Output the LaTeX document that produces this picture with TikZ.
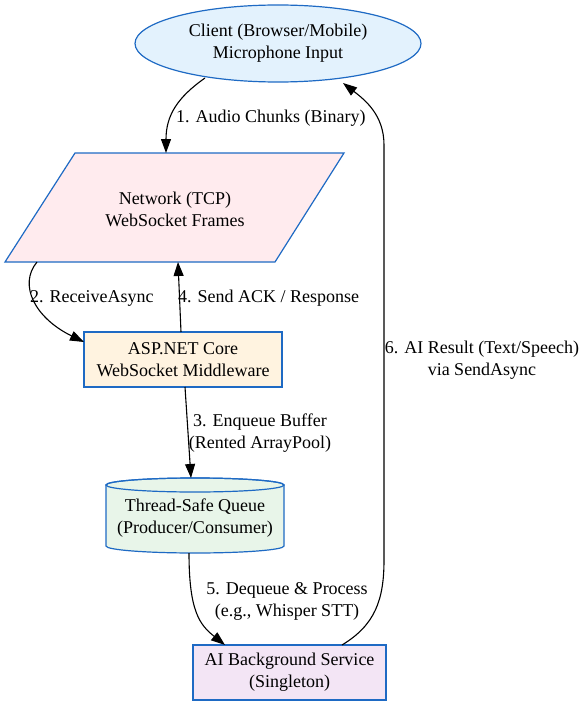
\documentclass[tikz,border=0pt]{standalone}
\usepackage{fontspec}
\setmainfont{Liberation Serif}
\newfontfamily\tms{Liberation Serif}
\usetikzlibrary{shapes.geometric,arrows.meta}
\definecolor{bord}{HTML}{1E6AC4}
\definecolor{fclient}{HTML}{E3F2FD}
\definecolor{fnet}{HTML}{FFEBEE}
\definecolor{fasp}{HTML}{FFF3E0}
\definecolor{fqueue}{HTML}{E8F5E9}
\definecolor{fai}{HTML}{F3E5F5}
\tikzset{
  txt/.style={font=\tms\fontsize{18}{22}\selectfont, align=center, inner sep=0pt},
  shapeline/.style={draw=bord, line width=1.2pt},
  boxnode/.style={txt, shapeline, rectangle},
  edge/.style={draw=black, line width=1.1pt, -{Triangle[length=14pt,width=10pt]}},
  lbl/.style={txt}
}
\begin{document}
\begin{tikzpicture}[x=1pt,y=-1pt]
\useasboundingbox (0,0) rectangle (584,706);

% Client
\node[txt, shapeline, ellipse, fill=fclient, minimum width=286pt, minimum height=77pt] (client) at (278,43.5) {Client (Browser/Mobile)\\Microphone Input};

% Network parallelogram
\filldraw[shapeline, fill=fnet] (75,153) -- (344,153) -- (275,262) -- (5,262) -- cycle;
\node[txt] (net) at (175,209) {Network (TCP)\\WebSocket Frames};

% ASP.NET
\node[boxnode, fill=fasp, minimum width=198pt, minimum height=55pt] (asp) at (183,359.5) {ASP.NET Core\\WebSocket Middleware};

% Queue cylinder
\filldraw[shapeline, fill=fqueue] (106,485) -- (106,546) arc[start angle=180,end angle=0,x radius=89,y radius=7] -- (284,485) arc[start angle=0,end angle=-180,x radius=89,y radius=7] -- cycle;
\draw[shapeline] (195,485) ellipse[x radius=89,y radius=7];
\node[txt] (queue) at (195,518) {Thread-Safe Queue\\(Producer/Consumer)};

% AI service
\node[boxnode, fill=fai, minimum width=193pt, minimum height=55pt] (ai) at (289.5,672.5) {AI Background Service\\(Singleton)};

% anchor coordinates
\coordinate (c1s) at (205,78);
\coordinate (n1) at (166,153);
\coordinate (n2s) at (37,262);
\coordinate (a2) at (84,342);
\coordinate (a4s) at (181,332);
\coordinate (n4) at (178,262);
\coordinate (a3s) at (185,387);
\coordinate (q3) at (191,478);
\coordinate (q5s) at (189,553);
\coordinate (ai5) at (225,645);
\coordinate (ai6s) at (342,645);
\coordinate (c6) at (343,83);

% edges
\draw[edge] (c1s) .. controls (178,97) and (166,115) .. (n1);
\draw[edge] (n2s) .. controls (18,285) and (35,318) .. (a2);
\draw[edge] (a4s) -- (n4);
\draw[edge] (a3s) -- (q3);
\draw[edge] (q5s) .. controls (189,612) and (200,625) .. (ai5);
\draw[edge] (ai6s) .. controls (375,625) and (384,600) .. (384,560) -- (384,145) .. controls (384,115) and (365,100) .. (c6);

% labels
\node[lbl, anchor=west] (l1) at (176,118) {1. Audio Chunks (Binary)};
\node[lbl, anchor=west] (l2) at (30,298) {2. ReceiveAsync};
\node[lbl, anchor=west] (l4) at (178,298) {4. Send ACK / Response};
\node[lbl] (l3) at (260,433) {3. Enqueue Buffer\\(Rented ArrayPool)};
\node[lbl] (l5) at (287,601) {5. Dequeue \& Process\\(e.g., Whisper STT)};
\node[lbl] (l6) at (482,360) {6. AI Result (Text/Speech)\\via SendAsync};
\end{tikzpicture}
\end{document}
